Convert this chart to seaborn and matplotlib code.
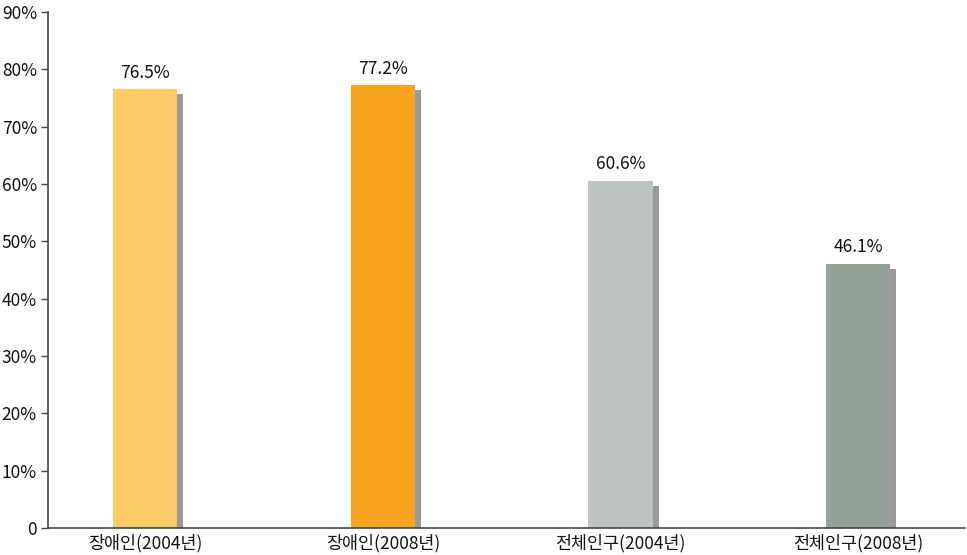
import matplotlib
matplotlib.use("Agg")
import matplotlib.pyplot as plt
import matplotlib.patheffects as pe
import pandas as pd
import seaborn as sns

categories = ["장애인(2004년)", "장애인(2008년)", "전체인구(2004년)", "전체인구(2008년)"]
values = [76.5, 77.2, 60.6, 46.1]
colors = ["#FDCB67", "#F7A520", "#BEC3C0", "#96A19A"]
y_ticks = [0, 10, 20, 30, 40, 50, 60, 70, 80, 90]
y_tick_labels = ["0"] + [f"{v}%" for v in y_ticks[1:]]

sns.set_theme(style="white")
plt.rcParams["font.family"] = ["Noto Sans CJK KR", "DejaVu Sans"]

df = pd.DataFrame({"category": categories, "value": values})

fig = plt.figure(figsize=(9.67, 5.55), dpi=100)
ax = fig.add_axes([48 / 967, 27 / 555, 917 / 967, 516 / 555])

sns.barplot(data=df, x="category", y="value", hue="category", palette=colors,
            width=0.27, legend=False, ax=ax, saturation=1)

for bar in ax.patches:
    bar.set_edgecolor("none")
    bar.set_path_effects([
        pe.SimplePatchShadow(offset=(4.3, -3.6), shadow_rgbFace="#9A9A9C", alpha=1.0),
        pe.Normal(),
    ])

for i, v in enumerate(values):
    ax.text(i, v + 1.3, f"{v:.1f}%", ha="center", va="bottom", fontsize=12.5, color="#111111")

ax.set_xlim(-0.41, 3.45)
ax.set_ylim(0, 90)
ax.set_yticks(y_ticks)
ax.set_yticklabels(y_tick_labels, fontsize=12.5, color="#111111")
ax.set_xticks(range(len(categories)))
ax.set_xticklabels(categories, fontsize=12.5, color="#111111")
ax.tick_params(axis="x", which="major", length=0, pad=4)
ax.set_xticks([0.5, 1.45, 2.5, 3.45], minor=True)
ax.tick_params(axis="x", which="minor", length=3, width=1, color="#444444", direction="out")
ax.tick_params(axis="y", length=5, width=1, color="#444444", direction="out", left=True, pad=3)
ax.set_xlabel("")
ax.set_ylabel("")

sns.despine(ax=ax, top=True, right=True)
for side in ["left", "bottom"]:
    ax.spines[side].set_color("#444444")
    ax.spines[side].set_linewidth(1.2)

fig.savefig("out.png", dpi=100)
